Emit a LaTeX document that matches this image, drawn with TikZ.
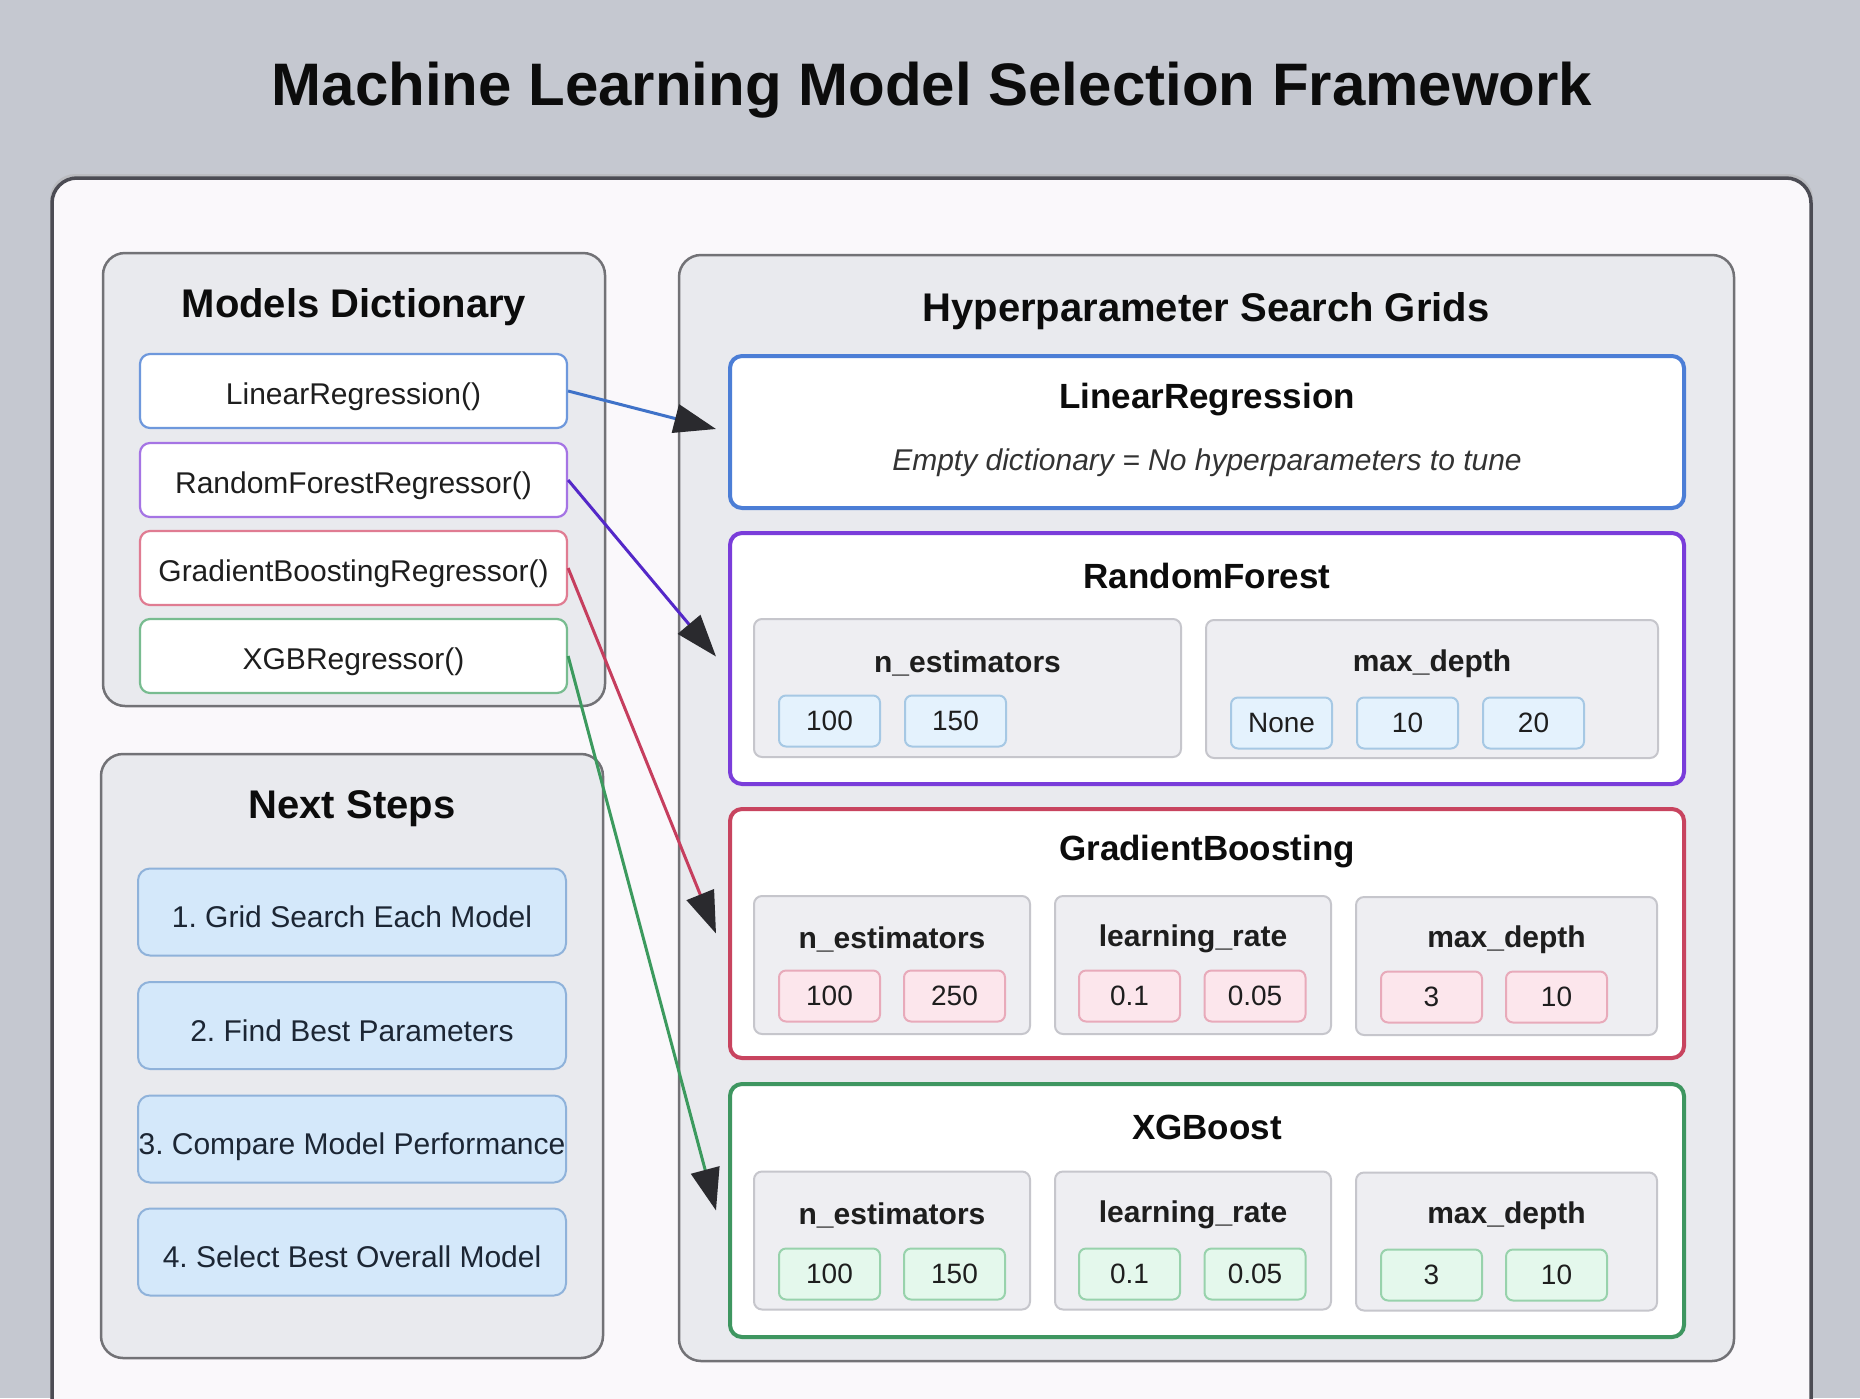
\documentclass[tikz,border=0pt]{standalone}
\usepackage{fontspec}
\setmainfont{Liberation Sans}
\usetikzlibrary{arrows.meta,calc}
\frenchspacing
\definecolor{bg}{HTML}{C5C8D0}
\definecolor{framefill}{HTML}{FAF8FB}
\definecolor{frameline}{HTML}{4C4C54}
\definecolor{panelfill}{HTML}{E9EAEE}
\definecolor{panelline}{HTML}{727276}
\definecolor{subfill}{HTML}{EEEEF2}
\definecolor{subline}{HTML}{C6C6CC}
\definecolor{txt}{HTML}{1E1E1E}
\definecolor{ttltxt}{HTML}{0C0C0C}
\definecolor{bluem}{HTML}{6E98DC}
\definecolor{purplem}{HTML}{A574E4}
\definecolor{redm}{HTML}{E07C92}
\definecolor{greenm}{HTML}{78BC90}
\definecolor{blueg}{HTML}{4C7ED6}
\definecolor{purpleg}{HTML}{7A3DDA}
\definecolor{redg}{HTML}{C8445F}
\definecolor{greeng}{HTML}{3E9660}
\definecolor{bluea}{HTML}{3F72C8}
\definecolor{purplea}{HTML}{5428C8}
\definecolor{reda}{HTML}{C63E5E}
\definecolor{greena}{HTML}{3C9A5E}
\definecolor{arrowtip}{HTML}{2A2A2E}
\definecolor{bluevf}{HTML}{E4F2FD}
\definecolor{bluevl}{HTML}{A6C8E4}
\definecolor{redvf}{HTML}{FCE6EC}
\definecolor{redvl}{HTML}{E8AABA}
\definecolor{greenvf}{HTML}{E4F8EC}
\definecolor{greenvl}{HTML}{98D2AC}
\definecolor{stepfill}{HTML}{D4E8FA}
\definecolor{stepline}{HTML}{8FB2DA}
\definecolor{steptxt}{HTML}{1C2634}
\newcommand\myfs[1]{\fontsize{#1}{#1}\selectfont}
\tikzset{
  panel/.style={draw=panelline, fill=panelfill, line width=2.5pt, rounded corners=22pt, inner sep=0pt},
  modelbox/.style={draw=#1, fill=white, line width=2.2pt, rounded corners=10pt,
    minimum width=427pt, minimum height=74pt, font=\myfs{30}, text=txt, inner sep=0pt,
    text height=26pt, text depth=0pt},
  gridbox/.style={draw=#1, fill=white, line width=4pt, rounded corners=12pt,
    minimum width=954pt, inner sep=0pt},
  subbox/.style={draw=subline, fill=subfill, line width=2pt, rounded corners=8pt,
    minimum height=138pt, inner sep=0pt},
  valbox/.style={draw=#1vl, fill=#1vf, line width=2pt, rounded corners=7pt,
    minimum width=101pt, minimum height=51pt, font=\myfs{28}, text=txt, inner sep=0pt,
    text height=20pt, text depth=1pt},
  stepbox/.style={draw=stepline, fill=stepfill, line width=2pt, rounded corners=12pt,
    minimum width=428pt, minimum height=87pt, font=\myfs{30}, text=steptxt, inner sep=0pt,
    text height=31pt, text depth=0pt},
  ttl/.style={font=\myfs{40}\bfseries, text=ttltxt, yshift=-5pt},
  gttl/.style={font=\myfs{35}\bfseries, text=ttltxt, yshift=-5pt},
  plabel/.style={font=\myfs{30}\bfseries, text=txt, yshift=-2pt},
  conn/.style={line width=3pt, -{Triangle[length=42pt,width=29pt,color=arrowtip]}},
}
\begin{document}
\begin{tikzpicture}[x=1pt,y=-1pt]
\useasboundingbox (0,0) rectangle (1860,1398);
\clip (0,0) rectangle (1860,1398);
\fill[bg] (0,0) rectangle (1860,1398);
% outer frame
\fill[black!30, opacity=0.5, rounded corners=25pt] (50,174) rectangle (1813,1430);
\draw[frameline, fill=framefill, line width=3.5pt, rounded corners=25pt] (52,178) rectangle (1811,1430);
% title
\node[font=\myfs{60}\bfseries, text=ttltxt, yshift=-5pt] (title) at (932,85) {Machine Learning Model Selection Framework};

% Models Dictionary panel
\node[panel, minimum width=502pt, minimum height=453pt] (mdict) at (354,479.5) {};
\node[ttl] (mdictt) at (354,302) {Models Dictionary};
\node[modelbox=bluem] (mlr) at (353.5,391) {LinearRegression()};
\node[modelbox=purplem] (mrf) at (353.5,480) {RandomForestRegressor()};
\node[modelbox=redm] (mgb) at (353.5,568) {GradientBoostingRegressor()};
\node[modelbox=greenm] (mxg) at (353.5,656) {XGBRegressor()};

% Next Steps panel
\node[panel, minimum width=502pt, minimum height=604pt] (nsteps) at (352,1056) {};
\node[ttl] (nstepst) at (352,804) {Next Steps};
\node[stepbox] (s1) at (352,912) {1. Grid Search Each Model};
\node[stepbox] (s2) at (352,1025.5) {2. Find Best Parameters};
\node[stepbox] (s3) at (352,1139) {3. Compare Model Performance};
\node[stepbox] (s4) at (352,1252) {4. Select Best Overall Model};

% Hyperparameter panel
\node[panel, minimum width=1055pt, minimum height=1106pt] (hgrid) at (1206.5,808) {};
\node[ttl] (hgridt) at (1206,306) {Hyperparameter Search Grids};

% LinearRegression grid
\node[gridbox=blueg, minimum height=152pt] (glr) at (1207,432) {};
\node[gttl] (glrt) at (1207,395) {LinearRegression};
\node[font=\myfs{30}\itshape, text=black!80, yshift=-4pt] (glrx) at (1207,459) {Empty dictionary = No hyperparameters to tune};

% RandomForest grid
\node[gridbox=purpleg, minimum height=251pt] (grf) at (1207,658.5) {};
\node[gttl] (grft) at (1207,571) {RandomForest};
\node[subbox, minimum width=427pt] (rfn) at (967.5,688) {};
\node[subbox, minimum width=452pt] (rfm) at (1432,689) {};
\node[plabel] (rfnl) at (967.5,661) {n\_estimators};
\node[plabel] (rfml) at (1432,662) {max\_depth};
\node[valbox=blue] (rfv1) at (829.5,721) {100};
\node[valbox=blue] (rfv2) at (955.5,721) {150};
\node[valbox=blue] (rfv3) at (1281.5,723) {None};
\node[valbox=blue] (rfv4) at (1407.5,723) {10};
\node[valbox=blue] (rfv5) at (1533.5,723) {20};

% GradientBoosting grid
\node[gridbox=redg, minimum height=249pt] (ggb) at (1207,933.5) {};
\node[gttl] (ggbt) at (1207,847) {GradientBoosting};
\node[subbox, minimum width=276pt] (gbn) at (892,965) {};
\node[subbox, minimum width=276pt] (gbl) at (1193,965) {};
\node[subbox, minimum width=301pt] (gbm) at (1506.5,966) {};
\node[plabel] (gbnl) at (892,937) {n\_estimators};
\node[plabel] (gbll) at (1193,937) {learning\_rate};
\node[plabel] (gbml) at (1506.5,938) {max\_depth};
\node[valbox=red] (gbv1) at (829.5,996) {100};
\node[valbox=red] (gbv2) at (954.5,996) {250};
\node[valbox=red] (gbv3) at (1129.5,996) {0.1};
\node[valbox=red] (gbv4) at (1255,996) {0.05};
\node[valbox=red] (gbv5) at (1431.5,997) {3};
\node[valbox=red] (gbv6) at (1556.5,997) {10};

% XGBoost grid
\node[gridbox=greeng, minimum height=253pt] (gxg) at (1207,1210.5) {};
\node[gttl] (gxgt) at (1207,1122) {XGBoost};
\node[subbox, minimum width=276pt] (xgn) at (892,1240.5) {};
\node[subbox, minimum width=276pt] (xgl) at (1193,1240.5) {};
\node[subbox, minimum width=301pt] (xgm) at (1506.5,1241.5) {};
\node[plabel] (xgnl) at (892,1213) {n\_estimators};
\node[plabel] (xgll) at (1193,1213) {learning\_rate};
\node[plabel] (xgml) at (1506.5,1214) {max\_depth};
\node[valbox=green] (xgv1) at (829.5,1274) {100};
\node[valbox=green] (xgv2) at (954.5,1274) {150};
\node[valbox=green] (xgv3) at (1129.5,1274) {0.1};
\node[valbox=green] (xgv4) at (1255,1274) {0.05};
\node[valbox=green] (xgv5) at (1431.5,1275) {3};
\node[valbox=green] (xgv6) at (1556.5,1275) {10};

% connectors
\coordinate (tlr) at ($(glr.west)+(-12,-3)$);
\coordinate (trf) at ($(grf.west)+(-12,-2)$);
\coordinate (tgb) at ($(ggb.west)+(-12,0)$);
\coordinate (txg) at ($(gxg.west)+(-12,0)$);
\draw[conn, draw=bluea] (mlr.east) -- (tlr);
\draw[conn, draw=purplea] (mrf.east) -- (trf);
\draw[conn, draw=reda] (mgb.east) -- (tgb);
\draw[conn, draw=greena] (mxg.east) -- (txg);
\end{tikzpicture}
\end{document}
